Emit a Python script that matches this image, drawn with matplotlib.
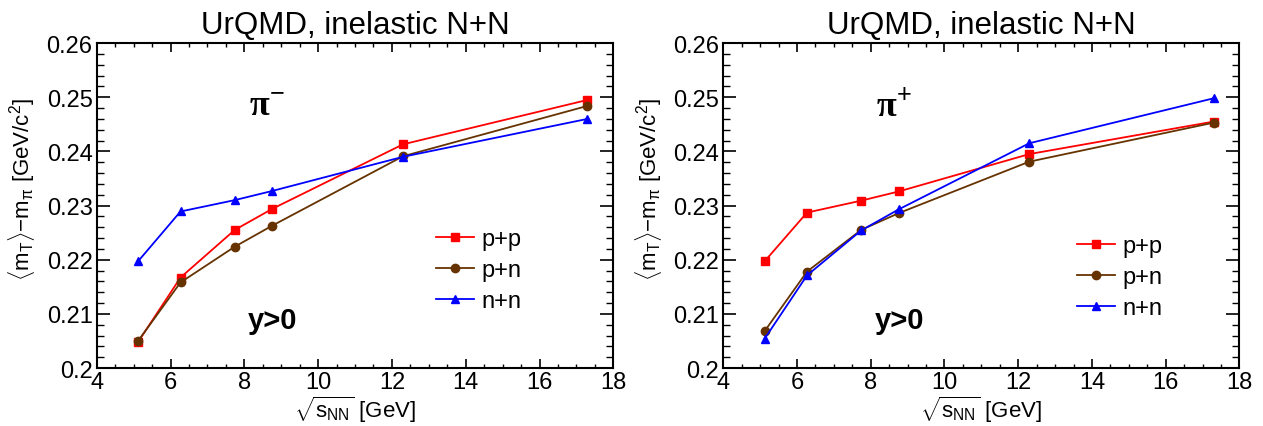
import numpy as np
import matplotlib.pyplot as plt
from matplotlib.ticker import MultipleLocator, AutoMinorLocator

plt.rcParams['font.family'] = ['Liberation Sans', 'DejaVu Sans']
plt.rcParams['mathtext.fontset'] = 'custom'
plt.rcParams['mathtext.rm'] = 'Liberation Sans'
plt.rcParams['mathtext.it'] = 'Liberation Sans'
plt.rcParams['mathtext.bf'] = 'Liberation Sans:bold'

# energies
sqrt_s = [5.12, 6.27, 7.74, 8.76, 12.3, 17.3]

# pi- panel
pim_pp = [0.2048, 0.2167, 0.2255, 0.2294, 0.2413, 0.2495]
pim_pn = [0.2050, 0.2158, 0.2224, 0.2263, 0.2391, 0.2484]
pim_nn = [0.2197, 0.2289, 0.2310, 0.2327, 0.2390, 0.2460]

# pi+ panel
pip_pp = [0.2197, 0.2287, 0.2309, 0.2326, 0.2395, 0.2455]
pip_pn = [0.2068, 0.2178, 0.2255, 0.2286, 0.2381, 0.2453]
pip_nn = [0.2054, 0.2171, 0.2254, 0.2293, 0.2415, 0.2498]

labels = ['p+p', 'p+n', 'n+n']
colors = ['#ff0000', '#663300', '#0000ff']
markers = ['s', 'o', '^']

fig = plt.figure(figsize=(12.63, 4.27), dpi=100)
ax1 = fig.add_axes([0.0766, 0.1358, 0.409, 0.761])
ax2 = fig.add_axes([0.5727, 0.1358, 0.4086, 0.761])


def draw_panel(ax, series, particle, leg_anchor):
    for vals, lab, col, mk in zip(series, labels, colors, markers):
        ax.plot(sqrt_s, vals, color=col, marker=mk, markersize=6,
                linewidth=1.3, label=lab)
    ax.set_xlim(4, 18)
    ax.set_ylim(0.2, 0.26)
    ax.xaxis.set_major_locator(MultipleLocator(2))
    ax.xaxis.set_minor_locator(AutoMinorLocator(4))
    ax.yaxis.set_minor_locator(AutoMinorLocator(5))
    ax.set_yticks([0.2, 0.21, 0.22, 0.23, 0.24, 0.25, 0.26])
    ax.set_yticklabels(['0.2', '0.21', '0.22', '0.23', '0.24', '0.25', '0.26'])
    ax.tick_params(which='both', direction='in', top=True, right=True,
                   labelsize=17)
    ax.tick_params(axis='x', which='major', length=6.5, width=1.2, pad=2.5)
    ax.tick_params(axis='x', which='minor', length=3.2, width=1.0)
    ax.tick_params(axis='y', which='major', length=9.4, width=1.2, pad=3)
    ax.tick_params(axis='y', which='minor', length=4.7, width=1.0)
    for sp in ax.spines.values():
        sp.set_linewidth(1.5)
    ax.set_title('UrQMD, inelastic N+N', fontsize=22.5, pad=7.5)
    ax.set_xlabel(r'$\sqrt{s_{NN}}$ [GeV]', fontsize=16, labelpad=0)
    ax.set_ylabel(r'$\langle$m$_{T}$$\rangle$−m$_{\pi}$ [GeV/c$^{2}$]', fontsize=16)
    ax.yaxis.set_label_coords(-0.115, 0.554)
    ax.text(8.62, 0.2482, 'π$^{' + particle + '}$', family='Liberation Serif',
            fontweight='bold', fontsize=26, ha='center', va='center')
    ax.text(8.77, 0.2088, 'y>0', fontsize=21, fontweight='bold',
            ha='center', va='center')
    ax.legend(loc='center left', bbox_to_anchor=leg_anchor, frameon=False,
              fontsize=17, handlelength=1.6, labelspacing=0.38,
              handletextpad=0.34, borderaxespad=0, borderpad=0)


draw_panel(ax1, [pim_pp, pim_pn, pim_nn], '-', (0.657, 0.3015))
draw_panel(ax2, [pip_pp, pip_pn, pip_nn], '+', (0.685, 0.28))

fig.savefig('out.png', dpi=100)
